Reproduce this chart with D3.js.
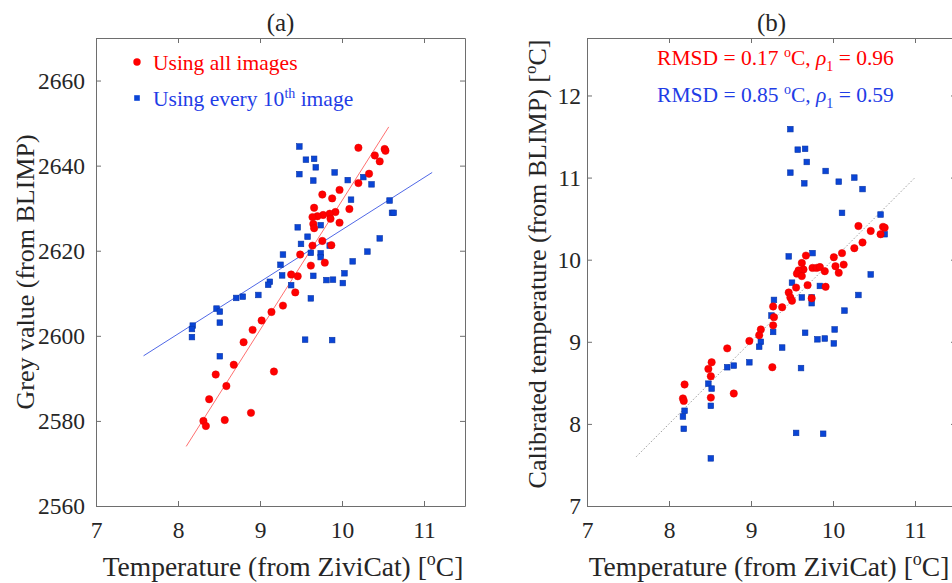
<!DOCTYPE html>
<html>
<head>
<meta charset="utf-8">
<script src="https://cdn.jsdelivr.net/npm/d3@7"></script>
<style>
  body { margin: 0; background: #fff; }
  svg { display: block; font-family: "Liberation Serif", "Times New Roman", serif; }
</style>
</head>
<body>
<svg id="chart" width="952" height="583"></svg>
<script>
// ---- data ----
// (a) grey value vs ZiviCat temperature
const allTempA = [10.20, 10.40, 10.52, 10.53, 10.46, 10.33, 10.20, 9.97, 9.76, 9.88, 9.66, 10.09, 9.92, 9.85, 9.77,
  9.70, 9.64, 9.86, 9.65, 9.97, 9.66, 9.76, 9.87, 9.64, 9.49, 9.79, 9.62, 9.38, 9.46, 9.43, 9.28, 9.14, 9.02, 8.91,
  8.80, 8.68, 9.17, 8.46, 8.59, 8.38, 8.89, 8.31, 8.34, 8.57];
const allGrey = [2644.2, 2642.4, 2643.9, 2643.5, 2641.0, 2638.1, 2635.9, 2634.3, 2633.2, 2632.3, 2630.1, 2629.8,
  2629.1, 2628.7, 2628.4, 2628.1, 2627.9, 2627.5, 2626.3, 2626.6, 2625.3, 2622.3, 2621.3, 2621.2, 2619.1, 2617.2,
  2616.5, 2614.4, 2614.0, 2610.2, 2607.1, 2605.6, 2603.6, 2601.4, 2598.5, 2593.2, 2591.6, 2590.9, 2588.2, 2585.1,
  2581.9, 2580.0, 2578.8, 2580.2];
const tenthTempA = [9.48, 9.56, 9.66, 9.68, 9.48, 9.91, 9.65, 10.07, 10.26, 10.36, 10.11, 10.58, 10.61, 10.63, 9.46,
  9.74, 9.58, 10.46, 9.50, 9.85, 10.31, 9.28, 9.62, 9.74, 9.74, 10.13, 9.25, 9.27, 9.65, 10.03, 9.81, 9.89, 10.01,
  9.12, 9.10, 9.38, 8.98, 8.79, 8.71, 9.62, 8.47, 8.51, 8.51, 8.18, 8.17, 8.17, 9.55, 9.88, 8.51];
const tenthGrey = [2644.5, 2641.4, 2641.6, 2639.6, 2638.0, 2638.4, 2636.5, 2636.6, 2637.3, 2635.6, 2632.0, 2631.8,
  2628.9, 2628.9, 2625.5, 2626.0, 2623.3, 2622.9, 2621.6, 2621.2, 2619.8, 2619.1, 2619.5, 2619.4, 2618.5, 2617.5,
  2616.7, 2614.2, 2614.1, 2614.7, 2613.1, 2613.2, 2612.4, 2612.7, 2612.0, 2611.9, 2609.6, 2609.2, 2608.9, 2608.8,
  2606.4, 2605.7, 2603.1, 2602.4, 2601.6, 2599.7, 2599.1, 2599.0, 2595.2];
// linear fits (end points)
const allFitT = [8.10, 10.57], allFitGrey = [2574.0, 2649.1];
const tenthFitT = [7.58, 11.10], tenthFitGrey = [2595.3, 2638.4];

// (b) calibrated temperature vs ZiviCat temperature
const allTempB = [10.31, 10.46, 10.61, 10.63, 10.58, 10.36, 10.26, 10.11, 9.67, 10.01, 9.62, 10.13, 10.03, 9.75,
  9.80, 9.84, 9.64, 9.58, 9.90, 9.56, 10.07, 9.62, 9.69, 9.55, 9.91, 9.46, 9.48, 9.50, 9.74, 9.27, 9.38, 9.28,
  9.27, 9.12, 9.10, 8.98, 8.71, 8.52, 8.48, 8.51, 9.26, 8.19, 8.17, 8.18, 8.51, 8.79];
const allCal = [10.41, 10.35, 10.40, 10.39, 10.31, 10.21, 10.14, 10.08, 10.05, 10.03, 9.96, 9.94, 9.92, 9.90,
  9.90, 9.91, 9.88, 9.87, 9.86, 9.83, 9.84, 9.80, 9.69, 9.66, 9.67, 9.60, 9.54, 9.50, 9.53, 9.43, 9.42, 9.30,
  9.20, 9.15, 9.08, 9.01, 8.92, 8.75, 8.67, 8.58, 8.69, 8.48, 8.31, 8.28, 8.32, 8.37];
const tenthTempB = [9.48, 9.57, 9.66, 9.68, 9.48, 9.91, 10.26, 9.65, 10.07, 10.36, 10.11, 10.58, 10.63, 9.75, 9.46,
  10.46, 9.50, 9.84, 9.62, 9.74, 9.74, 10.31, 9.28, 10.14, 9.25, 9.27, 10.02, 9.66, 9.81, 9.90, 10.01, 9.12, 9.10,
  9.38, 8.98, 8.71, 8.79, 9.61, 8.48, 8.52, 8.51, 8.19, 8.17, 8.18, 9.55, 9.88, 8.51];
const tenthCal = [11.59, 11.34, 11.35, 11.19, 11.06, 11.08, 11.00, 10.93, 10.95, 10.86, 10.57, 10.55, 10.31, 10.08,
  10.04, 9.82, 9.72, 9.68, 9.54, 9.54, 9.47, 9.57, 9.51, 9.38, 9.32, 9.12, 9.15, 9.11, 9.03, 9.04, 8.98, 9.00,
  8.94, 8.93, 8.75, 8.69, 8.71, 8.68, 8.49, 8.43, 8.22, 8.16, 8.09, 7.94, 7.89, 7.88, 7.58];
const oneToOne = [7.6, 11.0];

// axes ticks
const xTicks = [7, 8, 9, 10, 11];
const greyTicks = [2560, 2580, 2600, 2620, 2640, 2660];
const calTicks = [7, 8, 9, 10, 11, 12];

// ---- layout ----
const svg = d3.select("#chart");
const W = 369, H = 468, TOP = 38;
const red = "#ff0000", blue = "#0a45d6";
const axisColor = "#6e6e6e", textColor = "#262626";

function panel(left, yDomain, yTicks, yPad) {
  const g = svg.append("g").attr("transform", `translate(${left},${TOP})`);
  const x = d3.scaleLinear().domain([7, 11.5]).range([0, W]);
  const y = d3.scaleLinear().domain(yDomain).range([H, 0]);
  const fmt = d3.format("d");

  g.append("g").attr("transform", `translate(0,${H})`)
    .call(d3.axisBottom(x).tickValues(xTicks).tickFormat(fmt).tickSizeInner(-5).tickSizeOuter(0).tickPadding(15));
  g.append("g")
    .call(d3.axisTop(x).tickValues(xTicks).tickSizeInner(-5).tickSizeOuter(0).tickFormat(""));
  g.append("g")
    .call(d3.axisLeft(y).tickValues(yTicks).tickFormat(fmt).tickSizeInner(-5).tickSizeOuter(0).tickPadding(yPad));
  g.append("g").attr("transform", `translate(${W},0)`)
    .call(d3.axisRight(y).tickValues(yTicks).tickSizeInner(-5).tickSizeOuter(0).tickFormat(""));

  g.selectAll(".domain, .tick line").attr("stroke", axisColor);
  g.selectAll(".tick text").attr("fill", textColor).style("font-size", "23.5px")
    .style("font-family", "Liberation Serif");
  return { g, x, y };
}

function squares(p, xs, ys) {
  p.g.append("g").selectAll("rect")
    .data(xs.map((d, i) => [d, ys[i]]))
    .join("rect")
    .attr("x", d => p.x(d[0]) - 2.8).attr("y", d => p.y(d[1]) - 2.8)
    .attr("width", 5.6).attr("height", 5.6)
    .attr("fill", blue).attr("stroke", "#0b36a6").attr("stroke-width", 0.6);
}

function dots(p, xs, ys) {
  p.g.append("g").selectAll("circle")
    .data(xs.map((d, i) => [d, ys[i]]))
    .join("circle")
    .attr("cx", d => p.x(d[0])).attr("cy", d => p.y(d[1])).attr("r", 3.7)
    .attr("fill", red).attr("stroke", "#e00000").attr("stroke-width", 0.5);
}

function fitLine(p, xs, ys, color, dash) {
  p.g.append("path")
    .datum(xs.map((d, i) => [d, ys[i]]))
    .attr("d", d3.line().x(d => p.x(d[0])).y(d => p.y(d[1])))
    .attr("fill", "none").attr("stroke", color).attr("stroke-width", 1)
    .attr("stroke-dasharray", dash || null);
}

function xLabel(cx) {
  const t = svg.append("text").attr("x", cx).attr("y", 576).attr("text-anchor", "middle")
    .attr("fill", textColor).style("font-size", "27.5px");
  t.append("tspan").text("Temperature (from ZiviCat) [");
  t.append("tspan").attr("dy", -11).style("font-size", "18px").text("o");
  t.append("tspan").attr("dy", 11).text("C]");
}

// ---- panel (a) ----
const pa = panel(96, [2560, 2670], greyTicks, 11);
fitLine(pa, allFitT, allFitGrey, "#ff7070");
fitLine(pa, tenthFitT, tenthFitGrey, "#5068e6");
squares(pa, tenthTempA, tenthGrey);
dots(pa, allTempA, allGrey);

svg.append("text").attr("x", 280.5).attr("y", 31).attr("text-anchor", "middle")
  .attr("fill", textColor).style("font-size", "25px").text("(a)");
svg.append("text").attr("transform", "translate(34,272) rotate(-90)").attr("text-anchor", "middle")
  .attr("fill", textColor).style("font-size", "26px").text("Grey value (from BLIMP)");
xLabel(283);

// legend
svg.append("circle").attr("cx", 137).attr("cy", 62).attr("r", 3.7).attr("fill", red);
svg.append("text").attr("x", 153).attr("y", 70).attr("fill", red).style("font-size", "21.5px")
  .text("Using all images");
svg.append("rect").attr("x", 134.2).attr("y", 95.2).attr("width", 5.6).attr("height", 5.6).attr("fill", blue);
const lg = svg.append("text").attr("x", 153).attr("y", 106).attr("fill", "#1f3de6").style("font-size", "21.5px");
lg.append("tspan").text("Using every 10");
lg.append("tspan").attr("dy", -8).style("font-size", "14px").text("th");
lg.append("tspan").attr("dy", 8).text(" image");

// ---- panel (b) ----
const pb = panel(587, [7, 12.7], calTicks, 6);
fitLine(pb, oneToOne, oneToOne, "#9a9a9a", "1.5,2");
squares(pb, tenthTempB, tenthCal);
dots(pb, allTempB, allCal);

svg.append("text").attr("x", 771.5).attr("y", 31).attr("text-anchor", "middle")
  .attr("fill", textColor).style("font-size", "25px").text("(b)");
const yb = svg.append("text").attr("transform", "translate(546,264) rotate(-90)").attr("text-anchor", "middle")
  .attr("fill", textColor).style("font-size", "26px");
yb.append("tspan").text("Calibrated temperature (from BLIMP) [");
yb.append("tspan").attr("dy", -10).style("font-size", "17px").text("o");
yb.append("tspan").attr("dy", 10).text("C]");
xLabel(769);

function stats(y, color, rmsd, rho) {
  const t = svg.append("text").attr("x", 775.5).attr("y", y).attr("text-anchor", "middle")
    .attr("fill", color).style("font-size", "21.5px");
  t.append("tspan").text(`RMSD = ${rmsd} `);
  t.append("tspan").attr("dy", -8).style("font-size", "14px").text("o");
  t.append("tspan").attr("dy", 8).text("C, ");
  t.append("tspan").style("font-style", "italic").text("\u03C1");
  t.append("tspan").attr("dy", 6).style("font-size", "14px").text("1");
  t.append("tspan").attr("dy", -6).text(` = ${rho}`);
}
stats(65, red, "0.17", "0.96");
stats(102, "#1f3de6", "0.85", "0.59");
</script>
</body>
</html>
